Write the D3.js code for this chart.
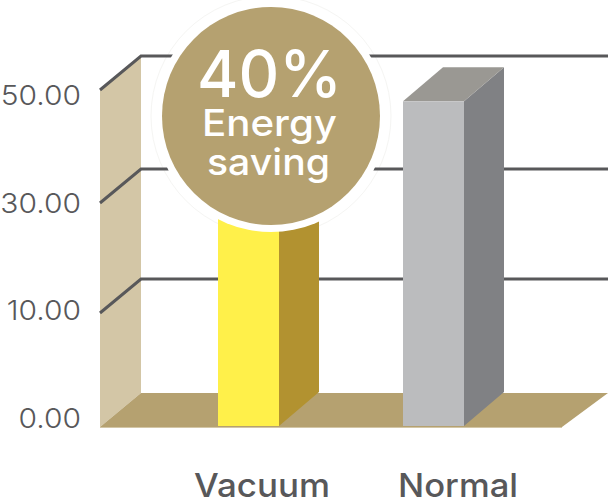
<!DOCTYPE html>
<html><head><meta charset="utf-8">
<script src="https://cdn.jsdelivr.net/npm/d3@7/dist/d3.min.js"></script>
<style>html,body{margin:0;padding:0;background:#fff}svg{display:block}</style>
</head><body><svg id="c" width="609" height="499"></svg>
<script>
const tickValues = [0, 10, 30, 50];
const tickLabels = ["0.00", "10.00", "30.00", "50.00"];
const categories = ["Vacuum", "Normal"];
const values = [28.8, 48];
const calloutLines = ["40%", "Energy", "saving"];

const svg = d3.select("#c");
const font = "Inter, 'Open Sans', sans-serif";
const y = d3.scaleLinear().domain(tickValues).range([427, 313, 203, 90]);
const labelY = d3.scaleLinear().domain(tickValues).range([428, 320, 213, 105]);
const x = d3.scaleOrdinal().domain(categories).range([218, 403]);
const labelX = d3.scaleOrdinal().domain(categories).range([194, 398]);
const labelW = d3.scaleOrdinal().domain(categories).range([136, 120]);
const barW = 61, barDx = 40, dx = 41, dy = -34, wallX = 100, floorRight = 562;
const cx = 271, cy = 116;
const line = d3.line();
const poly = (pts, fill) => svg.append("path").attr("d", line(pts) + "Z").attr("fill", fill);

// faint outer ring of the callout, behind everything
svg.append("circle").attr("cx", cx).attr("cy", cy).attr("r", 120).attr("fill", "none")
  .attr("stroke", "#f5f5f3").attr("stroke-width", 1);

// back wall
poly([[wallX, y(50)], [wallX + dx, y(50) + dy], [wallX + dx, y(0) + dy], [wallX, y(0)]], "#d3c6a6");
// floor
poly([[wallX, y(0)], [wallX + dx, y(0) + dy], [608, y(0) + dy], [floorRight, y(0)]], "#b5a170");
svg.append("path").attr("d", line([[wallX, y(0) + 0.5], [floorRight, y(0) + 0.5]]))
  .attr("stroke", "#d3c6a6").attr("stroke-width", 1);

// grid lines
tickValues.slice(1).forEach(t => {
  svg.append("path")
    .attr("d", line([[wallX, y(t)], [wallX + dx, y(t) + dy], [608, y(t) + dy]]))
    .attr("fill", "none").attr("stroke", "#58585a").attr("stroke-width", 3);
});

// axis labels
svg.selectAll("text.tick").data(tickValues).join("text").attr("class", "tick")
  .attr("x", 81).attr("y", d => labelY(d))
  .attr("text-anchor", "end").attr("fill", "#58585a")
  .attr("font-family", font).attr("font-size", 27.5).attr("font-weight", 300)
  .text((d, i) => tickLabels[i])
  .each(function () {
    d3.select(this).attr("textLength", this.getComputedTextLength() * 1.09)
      .attr("lengthAdjust", "spacingAndGlyphs");
  });

// bars
const colors = [["#fff04a", "#b29230", "#b29230"], ["#bbbcbe", "#808184", "#9a9893"]];
categories.forEach((c, i) => {
  const x0 = x(c), top = y(values[i]), bot = y(0) - 1, [front, side, cap] = colors[i];
  poly([[x0 + barW, top], [x0 + barW + barDx, top + dy], [x0 + barW + barDx, bot + dy], [x0 + barW, bot]], side);
  poly([[x0, top], [x0 + barDx, top + dy], [x0 + barW + barDx, top + dy], [x0 + barW, top]], cap);
  svg.append("rect").attr("x", x0).attr("y", top).attr("width", barW).attr("height", bot - top).attr("fill", front);
  svg.append("text").attr("x", labelX(c)).attr("y", 497)
    .attr("fill", "#58585a")
    .attr("font-family", font).attr("font-size", 33).attr("font-weight", 500)
    .attr("textLength", labelW(c)).attr("lengthAdjust", "spacingAndGlyphs").text(c);
});

// callout
svg.append("circle").attr("cx", cx).attr("cy", cy).attr("r", 116).attr("fill", "#fff");
svg.append("circle").attr("cx", cx).attr("cy", cy).attr("r", 109).attr("fill", "#b5a170");
const callout = [{s: 65, yy: 97, w: 145, x: 197}, {s: 37, yy: 136, w: 135, x: 202}, {s: 37, yy: 175, w: 123, x: 207}];
callout.forEach((o, i) => {
  svg.append("text").attr("x", o.x).attr("y", o.yy)
    .attr("fill", "#fff").attr("font-family", font).attr("font-size", o.s).attr("font-weight", 500)
    .attr("textLength", o.w).attr("lengthAdjust", "spacingAndGlyphs")
    .text(calloutLines[i]);
});
</script></body></html>
